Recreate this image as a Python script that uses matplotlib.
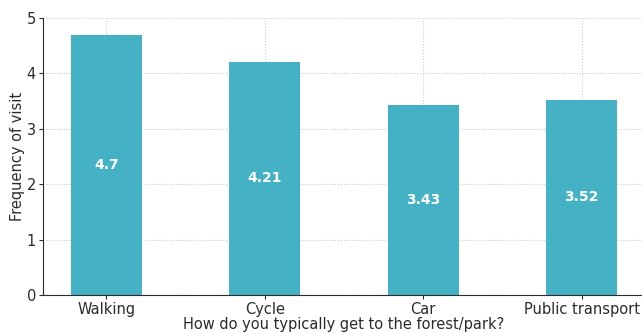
import matplotlib
matplotlib.use("Agg")
import matplotlib.pyplot as plt

modes = ["Walking", "Cycle", "Car", "Public transport"]
visits = [4.7, 4.21, 3.43, 3.52]

BAR = "#45b1c4"
INK = "#2b2b2b"

fig = plt.figure(figsize=(6.42, 3.33), dpi=100)
ax = fig.add_axes([43 / 642, 38 / 333, 602 / 642, 277 / 333])

x = range(len(modes))
bars = ax.bar(x, visits, width=0.45, color=BAR, zorder=2)
for b, v in zip(bars, visits):
    ax.text(b.get_x() + b.get_width() / 2, v / 2, f"{v:g}", ha="center", va="center",
            color="white", fontsize=10, fontweight="bold", zorder=3)

ax.set_xlim(-0.4, 3.4)
ax.set_ylim(0, 5)
ax.set_xticks(list(x))
ax.set_xticklabels(modes)
ax.set_yticks(range(6))
ax.tick_params(colors=INK, labelsize=10.5, length=3, pad=2)
ax.grid(True, linestyle=":", color="#c8c8c8", linewidth=0.8, zorder=0)
ax.set_axisbelow(True)
for s in ("top", "right"):
    ax.spines[s].set_visible(False)
for s in ("left", "bottom"):
    ax.spines[s].set_color(INK)

ax.set_ylabel("Frequency of visit", fontsize=10.5, color=INK, labelpad=1)
ax.set_xlabel("How do you typically get to the forest/park?", fontsize=10.5, color=INK, labelpad=0)

fig.savefig("out.png", dpi=100)
